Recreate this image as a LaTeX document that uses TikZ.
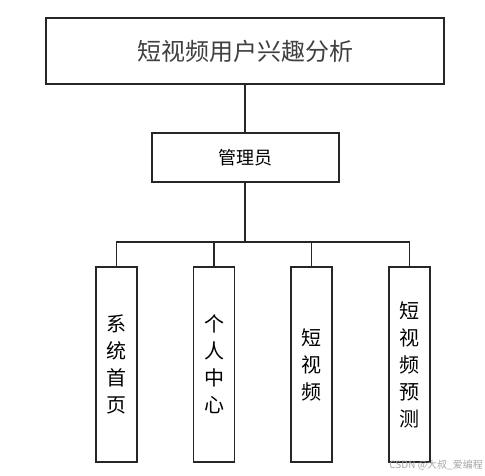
\documentclass[tikz,border=0pt]{standalone}
\usepackage{fontspec}
\newfontfamily\cjk{Noto Sans CJK SC}
\begin{document}
\begin{tikzpicture}[x=1pt,y=1pt,
  box/.style={draw=black!85, line width=1.2pt, inner sep=0pt},
  conn/.style={draw=black!85, line width=1.2pt},
  vtext/.style={font=\cjk\fontsize{20}{27}\selectfont, align=center, text=black}]
\useasboundingbox (0,0) rectangle (485,476);
\fill[white] (0,0) rectangle (485,476);
% top box
\node[box, minimum width=398pt, minimum height=66pt, font=\cjk\fontsize{24}{28}\selectfont, text=black!75] (top) at (245,425) {短视频用户兴趣分析};
% manager
\node[box, minimum width=187pt, minimum height=49pt, font=\cjk\fontsize{18}{22}\selectfont, text=black] (mgr) at (245.5,318.5) {管理员};
% children
\node[box, minimum width=41pt, minimum height=195pt, vtext] (c1) at (116.5,111.5) {系\\统\\首\\页};
\node[box, minimum width=41pt, minimum height=195pt, vtext] (c2) at (214,111.5) {个\\人\\中\\心};
\node[box, minimum width=41pt, minimum height=195pt, vtext] (c3) at (311.5,111.5) {短\\视\\频};
\node[box, minimum width=41pt, minimum height=195pt, vtext] (c4) at (409.5,111.5) {短\\视\\频\\预\\测};
\coordinate (bus) at (245,234);
\draw[conn] (top.south) -- (mgr.north -| top.south);
\draw[conn] (mgr.south -| bus) -- (bus);
\draw[conn] (c1.north) |- (bus) -| (c4.north);
\draw[conn] (c2.north) -- (c2.north |- bus);
\draw[conn] (c3.north) -- (c3.north |- bus);
\node[font=\cjk\fontsize{10}{12}\selectfont, text=black!35, anchor=east, inner sep=0pt] (wm) at (483,11) {CSDN @大叔\_爱编程};
\end{tikzpicture}
\end{document}
